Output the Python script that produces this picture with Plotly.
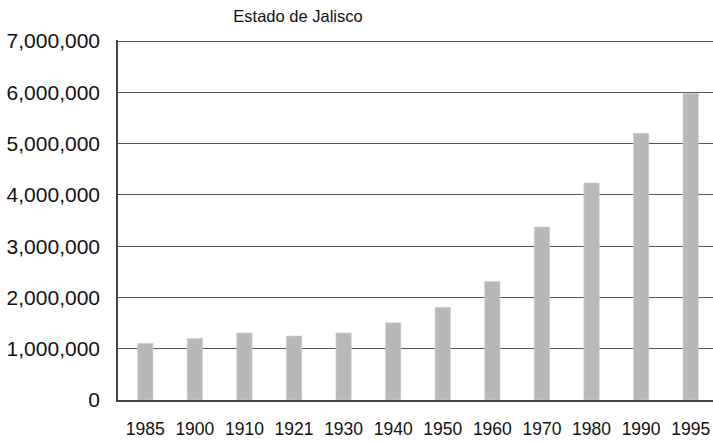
import plotly.graph_objects as go

years = ["1985", "1900", "1910", "1921", "1930", "1940", "1950", "1960", "1970", "1980", "1990", "1995"]
population = [1105000, 1200000, 1306000, 1248000, 1306000, 1507000, 1807000, 2313000, 3372000, 4230000, 5200000, 5980000]
y_ticks = [0, 1000000, 2000000, 3000000, 4000000, 5000000, 6000000, 7000000]
title_text = "Estado de Jalisco"

W, H = 713, 442

fig = go.Figure()
fig.add_trace(go.Bar(
    x=years, y=population,
    marker=dict(color="#b8b8b8", line=dict(color="#d0d0d0", width=0.6)),
    width=0.31,
))

fig.update_layout(
    width=W, height=H,
    margin=dict(l=118, r=0, t=40, b=42, autoexpand=False),
    paper_bgcolor="white", plot_bgcolor="white",
    showlegend=False,
    title=dict(text=title_text, x=298 / W, xref="container", xanchor="center",
               y=1 - 16 / H, yref="container", yanchor="middle",
               font=dict(family="Liberation Sans, Arial", size=16.5, color="#111")),
    font=dict(family="Liberation Sans, Arial", color="#111"),
)
fig.update_xaxes(
    type="category", range=[-0.55, 11.45],
    showline=True, linecolor="#444", linewidth=1.5,
    showgrid=False, ticks="", ticklabelstandoff=12,
    tickfont=dict(family="Liberation Sans, Arial", size=17.5, color="#111"),
)
fig.update_yaxes(
    range=[0, 7020000], tickvals=y_ticks, tickformat=",d",
    showline=True, linecolor="#444", linewidth=1.5,
    showgrid=True, gridcolor="#555", gridwidth=1.2,
    zeroline=False, ticks="", ticklabelstandoff=12,
    tickfont=dict(family="Liberation Sans, Arial", size=21, color="#111"),
)

fig.write_html(
    "out.html",
    config={"displayModeBar": False},
    post_script="document.body.style.margin='0px';document.documentElement.style.overflow='hidden';",
)
